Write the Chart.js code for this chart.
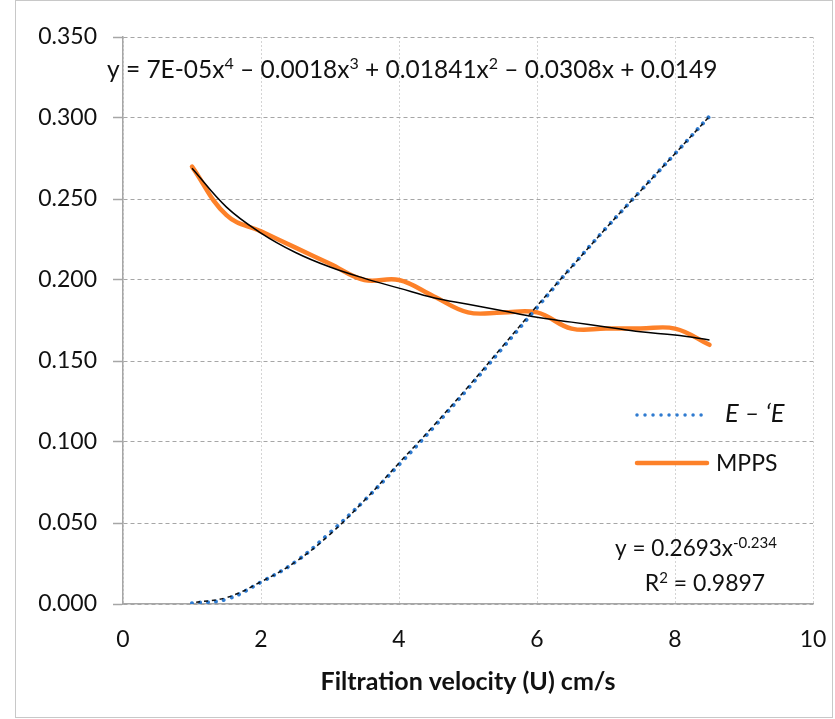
<!DOCTYPE html>
<html>
<head>
<meta charset="utf-8">
<script src="https://cdn.jsdelivr.net/npm/chart.js@4.4.0/dist/chart.umd.min.js"></script>
<style>
  html, body { margin: 0; padding: 0; background: #fff; }
  #wrap { width: 835px; height: 719px; position: relative; }
</style>
</head>
<body>
<div id="wrap"><canvas id="chart" width="835" height="719"></canvas></div>
<script>
// values
const velocity = [1, 1.5, 2, 2.5, 3, 3.5, 4, 4.5, 5, 5.5, 6, 6.5, 7, 7.5, 8, 8.5];
const eValues = [0.0005, 0.003, 0.0135, 0.026, 0.044, 0.064, 0.086, 0.109, 0.133, 0.158, 0.183, 0.208, 0.232, 0.255, 0.278, 0.301];
const eTrend = [0.0008, 0.004, 0.0137, 0.026, 0.043, 0.064, 0.087, 0.110, 0.134, 0.159, 0.184, 0.208, 0.232, 0.255, 0.278, 0.301];
const mppsValues = [0.270, 0.240, 0.230, 0.220, 0.210, 0.200, 0.200, 0.190, 0.180, 0.180, 0.180, 0.170, 0.170, 0.170, 0.170, 0.160];
const mppsTrend = [0.269, 0.245, 0.229, 0.217, 0.208, 0.201, 0.195, 0.189, 0.185, 0.181, 0.177, 0.174, 0.171, 0.168, 0.166, 0.163];
const xTicks = [0, 2, 4, 6, 8, 10];
const yTicks = [0, 0.05, 0.1, 0.15, 0.2, 0.25, 0.3, 0.35];

const FONT = "Lato, 'Open Sans', sans-serif";

function pts(ys) {
  return velocity.map((x, i) => ({ x: x, y: ys[i] }));
}

// draw a line of text made of normal / superscript pieces
function drawRich(c, parts, x, y, size, align) {
  c.save();
  c.textBaseline = "alphabetic";
  c.textAlign = "left";
  const supSize = Math.round(size * 0.66);
  let w = 0;
  parts.forEach(p => {
    c.font = (p[1] ? supSize : size) + "px " + FONT;
    w += c.measureText(p[0]).width;
  });
  let cx = align === "center" ? x - w / 2 : x;
  parts.forEach(p => {
    c.font = (p[1] ? supSize : size) + "px " + FONT;
    c.fillStyle = "#111";
    c.fillText(p[0], cx, p[1] ? y - size * 0.36 : y);
    cx += c.measureText(p[0]).width;
  });
  c.restore();
}

const extras = {
  id: "extras",
  beforeDraw(chart) {
    const c = chart.ctx;
    c.save();
    c.fillStyle = "#fff";
    c.fillRect(0, 0, chart.width, chart.height);
    c.strokeStyle = "#c8c8c8";
    c.lineWidth = 1;
    c.strokeRect(15.5, 0.5, 817, 717);
    c.restore();
  },
  afterDatasetsDraw(chart) {
    const c = chart.ctx;
    // polynomial trendline label
    drawRich(c, [["y = 7E-05x"], ["4", 1], [" – 0.0018x"], ["3", 1], [" + 0.01841x"], ["2", 1],
      [" – 0.0308x + 0.0149"]], 107, 78, 24.5, "left");
    // power trendline label
    drawRich(c, [["y = 0.2693x"], ["-0.234", 1]], 696, 556, 22.5, "center");
    drawRich(c, [["R"], ["2", 1], [" = 0.9897"]], 705, 591, 23, "center");

    // legend
    c.save();
    c.lineCap = "round";
    c.strokeStyle = "#2f7bd0";
    c.lineWidth = 3.5;
    c.setLineDash([0.01, 8]);
    c.beginPath(); c.moveTo(637, 415); c.lineTo(707, 415); c.stroke();
    c.setLineDash([]);
    c.strokeStyle = "#fd8129";
    c.lineWidth = 4.5;
    c.beginPath(); c.moveTo(637, 463); c.lineTo(707, 463); c.stroke();
    c.fillStyle = "#111";
    c.textBaseline = "middle";
    c.font = "italic 25.5px " + FONT;
    c.fillText("E – ‘E", 725, 414);
    c.font = "23px " + FONT;
    c.fillText("MPPS", 716, 464);
    c.restore();
  }
};

const ctx = document.getElementById("chart");

new Chart(ctx, {
  type: "line",
  data: {
    datasets: [
      {
        label: "poly trend",
        data: pts(eTrend),
        borderColor: "#111",
        borderWidth: 1.5,
        borderDash: [4, 4],
        borderDashOffset: 4,
        pointRadius: 0,
        tension: 0.4,
        order: 0
      },
      {
        label: "power trend",
        data: pts(mppsTrend),
        borderColor: "#000",
        borderWidth: 1.5,
        pointRadius: 0,
        tension: 0.4,
        order: 0
      },
      {
        label: "E – ‘E",
        data: pts(eValues),
        borderColor: "#2f7bd0",
        borderWidth: 4,
        borderDash: [0.01, 8],
        borderCapStyle: "round",
        pointRadius: 0,
        tension: 0.4,
        order: 1
      },
      {
        label: "MPPS",
        data: pts(mppsValues),
        borderColor: "#fd8129",
        borderWidth: 4.5,
        borderCapStyle: "round",
        pointRadius: 0,
        tension: 0.4,
        order: 2
      }
    ]
  },
  options: {
    responsive: false,
    animation: false,
    devicePixelRatio: 1,
    layout: { padding: { top: 37, right: 22, left: 0, bottom: 0 } },
    plugins: {
      legend: { display: false },
      tooltip: { enabled: false }
    },
    scales: {
      x: {
        type: "linear",
        min: 0,
        max: 10,
        afterBuildTicks: s => { s.ticks = xTicks.map(v => ({ value: v })); },
        afterFit: s => { s.height = 115; s.paddingLeft = 0; s.paddingRight = 0; },
        ticks: { color: "#111", font: { family: FONT, size: 23 }, padding: 22, maxRotation: 0 },
        grid: { color: "#d4d4d4", drawTicks: false },
        border: { color: "#a6a6a6", width: 1.5, dash: [2, 2] },
        title: {
          display: true,
          text: "Filtration velocity (U) cm/s",
          color: "#111",
          font: { family: FONT, size: 25, weight: "bold" },
          padding: { top: 0, bottom: 22 }
        }
      },
      y: {
        min: 0,
        max: 0.35,
        afterBuildTicks: s => { s.ticks = yTicks.map(v => ({ value: v })); },
        afterFit: s => { s.width = 123; },
        ticks: {
          color: "#111",
          font: { family: FONT, size: 23 },
          padding: 16,
          callback: v => v.toFixed(3)
        },
        grid: {
          color: "#a6a6a6",
          tickLength: 10,
          tickColor: "#a6a6a6",
          tickBorderDash: [],
          tickWidth: 1.5
        },
        border: { color: "#a6a6a6", width: 1.5, dash: [4, 3] }
      }
    }
  },
  plugins: [extras]
});
</script>
</body>
</html>
